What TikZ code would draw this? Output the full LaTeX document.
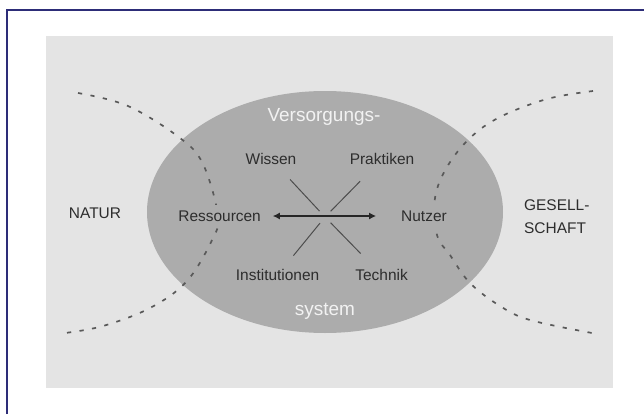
\documentclass[tikz,border=0pt]{standalone}
\usepackage{fontspec}
\setmainfont{Liberation Sans}
\usepackage{tikz}
\usetikzlibrary{arrows.meta}

\definecolor{panelgray}{RGB}{228,228,228}
\definecolor{ovalgray}{RGB}{172,172,172}
\definecolor{inkgray}{RGB}{45,45,45}
\definecolor{framenavy}{RGB}{45,45,120}

\begin{document}
\begin{tikzpicture}[
    term/.style={inner sep=0pt, text=inkgray, text height=0.72em, text depth=0pt, font=\fontsize{11}{16.4}\selectfont},
    heading/.style={inner sep=0pt, text=white!95!black, text height=0.72em, text depth=0pt, font=\fontsize{13.5}{16}\selectfont},
    boundary/.style={draw=black!65, line width=1.2pt, dash pattern=on 3pt off 6pt},
    xline/.style={draw=black!70, line width=0.7pt, shorten >=0.2cm}
]
    \useasboundingbox (0,0) rectangle (16.1,10.35);

    % Frame and panel
    \draw[framenavy, line width=1.4pt] (0.175,0) |- (16.1,10.1);
    \fill[panelgray] (1.15,0.65) rectangle (15.325,9.45);

    % Supply system
    \fill[ovalgray] (8.125,5.05) ellipse [x radius=4.45, y radius=3.025];

    % Boundaries to nature and society
    \draw[boundary] plot[smooth, tension=0.6] coordinates {(1.95,8.025) (3.2,7.7) (4.5,6.9) (5.075,6.25) (5.45,4.975) (5.325,4.4) (4.675,3.325) (3.75,2.65) (2.575,2.2) (1.625,2.025)};
    \draw[boundary] plot[smooth, tension=0.6] coordinates {(14.825,8.075) (13.675,7.875) (12.5,7.425) (11.75,6.9) (11.175,6.175) (10.875,5.4) (10.925,4.475) (11.25,3.975) (11.75,3.275) (12.5,2.7) (13.25,2.35) (14.8,2.025)};

    % Labels
    \node[heading] (top) at (8.1,7.45) {Versorgungs-};
    \node[heading] (bot) at (8.125,2.6) {system};
    \node[term] (wis) at (6.775,6.375) {Wissen};
    \node[term] (pra) at (9.55,6.375) {Praktiken};
    \node[term, fill=ovalgray, inner ysep=4pt] (res) at (5.49,4.95) {Ressourcen};
    \node[term, fill=ovalgray, inner ysep=4pt] (nut) at (10.6,4.95) {Nutzer};
    \node[term] (ins) at (6.94,3.475) {Institutionen};
    \node[term] (tec) at (9.54,3.475) {Technik};
    \node[term] (nat) at (2.375,5.01) {NATUR};
    \node[term, align=left, text height=, text depth=] (ges) at (13.92,4.94) {GESELL-\\SCHAFT};

    % Cross and flow
    \coordinate (mid) at (8.125,4.925);
    \draw[xline, shorten <=0.7cm] (wis.center) -- (mid);
    \draw[xline, shorten <=0.78cm] (pra.center) -- (mid);
    \draw[xline, shorten <=0.625cm] (ins.center) -- (mid);
    \draw[xline, shorten <=0.75cm] (tec.center) -- (mid);
    \draw[{Latex[length=5pt,width=5pt]}-{Latex[length=5pt,width=5pt]}, line width=1.3pt, black!85, shorten <=0.29cm, shorten >=0.62cm] (res) -- (nut);
\end{tikzpicture}
\end{document}
